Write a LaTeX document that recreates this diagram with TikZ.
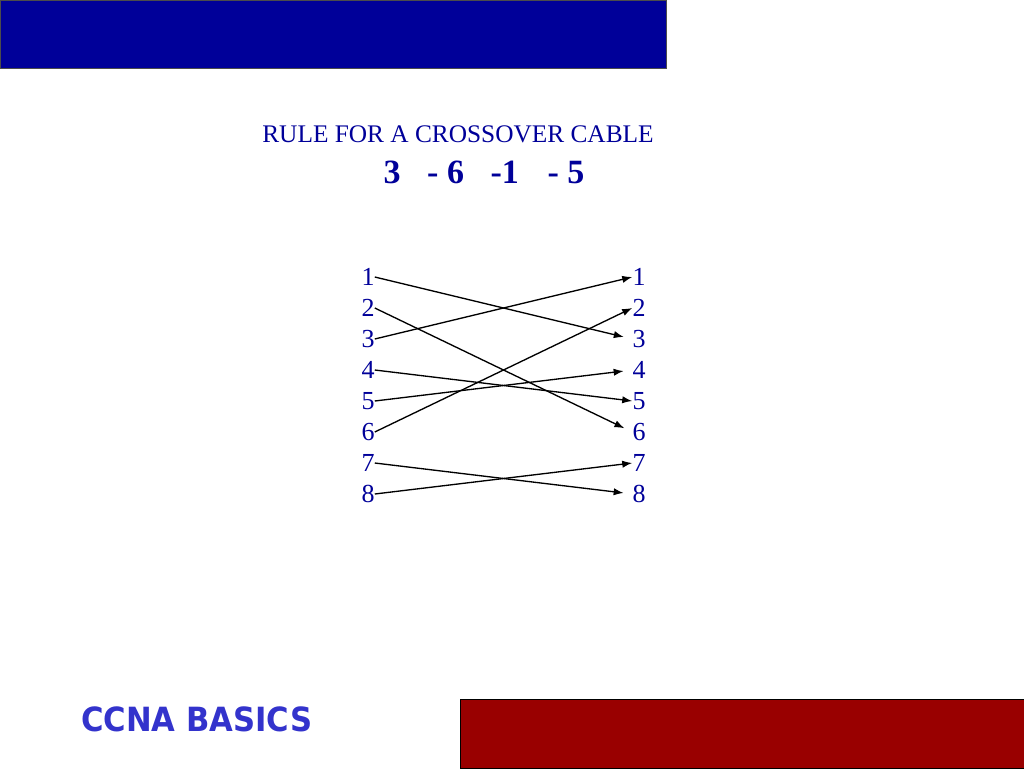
\documentclass[tikz,border=0pt]{standalone}
\usepackage{fontspec}
\setmainfont{Liberation Serif}
\newfontfamily\ccnafont[FakeStretch=0.92]{DejaVu Sans}
\usetikzlibrary{arrows.meta}
\definecolor{slideblue}{RGB}{0,0,153}
\definecolor{slidered}{RGB}{153,0,0}
\definecolor{ccnablue}{RGB}{51,51,204}

\begin{document}
\begin{tikzpicture}[x=0.75pt,y=-0.75pt,
  pin/.style={text=slideblue,inner sep=0pt,font=\fontsize{19.5}{20}\selectfont},
  wire/.style={-{Latex[length=7.5pt,width=5.5pt]},line width=1pt},
  short/.style={shorten >=6.5pt}]
  \useasboundingbox (0,0) rectangle (1024,768);

  % bars
  \draw[fill=slideblue,draw=black!70] (0,0) rectangle (666,68);
  \draw[fill=slidered,draw=black] (460,699) rectangle (1024,768);

  % heading
  \node[anchor=base,text=slideblue,font=\fontsize{19}{19}\selectfont] (title) at (458,142) {RULE FOR A CROSSOVER CABLE};
  \node[anchor=base,text=slideblue,font=\fontsize{25.5}{26}\selectfont\bfseries] (rule) at (484,183) {3\hspace{20pt}- 6\hspace{20pt}-1\hspace{21.5pt}- 5};

  % pins on both ends
  \foreach \i in {1,...,8} {
    \node[pin] (L\i) at (368,246+31*\i) {\i};
    \node[pin] (R\i) at (639,246+31*\i) {\i};
  }

  % crossed pairs
  \foreach \a/\b in {3/1,6/2,4/5,8/7}
    \draw[wire] (L\a.east) -- (R\b.west);
  \foreach \a/\b in {1/3,5/4,2/6,7/8}
    \draw[wire,short] (L\a.east) -- (R\b.west);

  % footer
  \node[anchor=base west,inner sep=0pt,text=ccnablue,font=\ccnafont\bfseries\fontsize{25}{25}\selectfont] (ccna) at (81,731) {CCNA BASICS};
\end{tikzpicture}
\end{document}
